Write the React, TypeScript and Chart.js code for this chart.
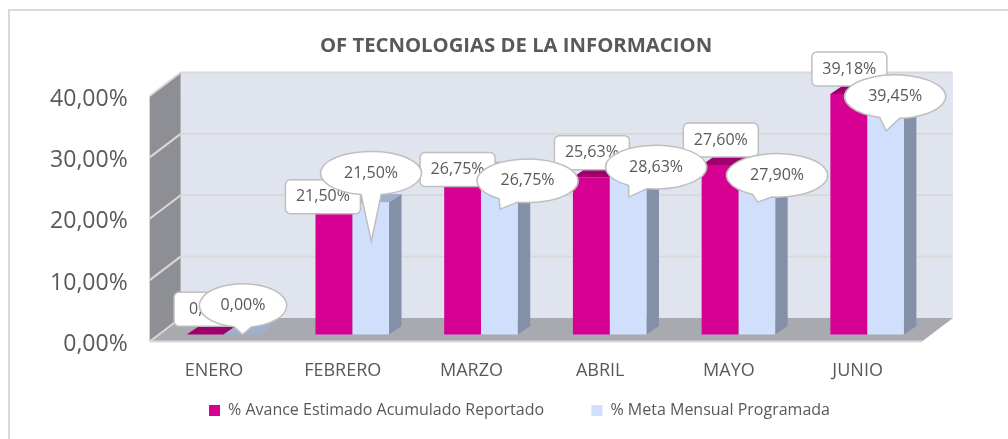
import React, { useEffect, useRef } from "react";
import { Chart, registerables } from "chart.js";

Chart.register(...registerables);

const categories = ["ENERO", "FEBRERO", "MARZO", "ABRIL", "MAYO", "JUNIO"];
const avanceValues = [0, 21.5, 26.75, 25.63, 27.6, 39.18];
const metaValues = [0, 21.5, 26.75, 28.63, 27.9, 39.45];
const avanceName = "% Avance Estimado Acumulado Reportado";
const metaName = "% Meta Mensual Programada";
const titleText = "OF TECNOLOGIAS DE LA INFORMACION";

const FONT = '"Open Sans", sans-serif';
const TEXT = "#595959";

// 3D look: offsets of the wall and bars
const WALL_DX = 31;
const WALL_DY = -23.5;
const BAR_SHIFT_X = 9.5;
const BAR_SHIFT_Y = -7;
const BAR_DX = 12.5;
const BAR_DY = -8.5;

// Callout placement relative to the top of each bar
const boxOffsetX = [6.4, -10.9, -5, 0.6, 0.8, 0.6];
const boxOffsetY = [-25.3, -5.8, -0.8, -24.5, -25.1, -25];
const bubbleOffsetX = [1.1, 0.4, 28.2, 28, 20.3, 9.6];
const bubbleOffsetY = [-29, -29.3, 10.5, 8.4, 12.1, 4.3];
const tailDrop = [0, 38.9, 38.8, 38.4, 38.9, 38.6];

const fmt = (v: number) => v.toFixed(2).replace(".", ",") + "%";

function poly(ctx: CanvasRenderingContext2D, pts: number[][], fill?: string, stroke?: string, lw = 1) {
  ctx.beginPath();
  pts.forEach((p, i) => (i ? ctx.lineTo(p[0], p[1]) : ctx.moveTo(p[0], p[1])));
  ctx.closePath();
  if (fill) {
    ctx.fillStyle = fill;
    ctx.fill();
  }
  if (stroke) {
    ctx.strokeStyle = stroke;
    ctx.lineWidth = lw;
    ctx.stroke();
  }
}

function line(ctx: CanvasRenderingContext2D, x1: number, y1: number, x2: number, y2: number, c: string, lw: number) {
  ctx.beginPath();
  ctx.moveTo(x1, y1);
  ctx.lineTo(x2, y2);
  ctx.strokeStyle = c;
  ctx.lineWidth = lw;
  ctx.stroke();
}

const scene3d = {
  id: "scene3d",
  afterLayout(chart: any) {
    chart.legend.left += 3.5;
    chart.legend.right += 3.5;
  },
  beforeDraw(chart: any) {
    const ctx = chart.ctx;
    ctx.save();
    ctx.fillStyle = "#ffffff";
    ctx.fillRect(0, 0, chart.width, chart.height);
    ctx.strokeStyle = "#d9d9d9";
    ctx.lineWidth = 2;
    ctx.strokeRect(9, 10, 1010, 440);
    ctx.restore();
  },
  beforeDatasetsDraw(chart: any) {
    const ctx = chart.ctx;
    const { left, right } = chart.chartArea;
    const ys = chart.scales.y;
    const y0 = ys.getPixelForValue(0);
    const yMax = ys.getPixelForValue(ys.max);
    ctx.save();
    // back wall, side wall, floor
    poly(ctx, [[left + WALL_DX, yMax + WALL_DY], [right + WALL_DX, yMax + WALL_DY], [right + WALL_DX, y0 + WALL_DY], [left + WALL_DX, y0 + WALL_DY]], "#e0e4ee");
    poly(ctx, [[left, yMax], [left + WALL_DX, yMax + WALL_DY], [left + WALL_DX, y0 + WALL_DY], [left, y0]], "#8e8f94");
    poly(ctx, [[left, y0], [left + WALL_DX, y0 + WALL_DY], [right + WALL_DX, y0 + WALL_DY], [right, y0]], "#a9aab0");
    // gridlines on the walls
    ys.ticks.forEach((t: any) => {
      const y = ys.getPixelForValue(t.value);
      line(ctx, left, y, left + WALL_DX, y + WALL_DY, "#d9d9d9", 2);
      if (t.value > 0) line(ctx, left + WALL_DX, y + WALL_DY, right + WALL_DX, y + WALL_DY, "#d9d9d9", 2);
    });
    line(ctx, left, y0, right, y0, "#d9d9d9", 2);
    // bar depth
    const magenta = chart.getDatasetMeta(0).data;
    const blue = chart.getDatasetMeta(1).data;
    ctx.translate(BAR_SHIFT_X, BAR_SHIFT_Y);
    const faces = (el: any, top: string, side: string) => {
      const p = el.getProps(["x", "y", "base", "width"], true);
      const l = p.x - p.width / 2;
      const r = p.x + p.width / 2;
      poly(ctx, [[l, p.y], [l + BAR_DX, p.y + BAR_DY], [r + BAR_DX, p.y + BAR_DY], [r, p.y]], top);
      poly(ctx, [[r, p.y], [r + BAR_DX, p.y + BAR_DY], [r + BAR_DX, p.base + BAR_DY], [r, p.base]], side);
    };
    magenta.forEach((el: any) => faces(el, "#a0006e", "#a0006e"));
    blue.forEach((el: any) => faces(el, "#9fb0cc", "#8490a8"));
    ctx.restore();
    // bars are drawn by Chart.js in the same shifted position
    ctx.save();
    ctx.translate(BAR_SHIFT_X, BAR_SHIFT_Y);
  },
  afterDatasetsDraw(chart: any) {
    const ctx = chart.ctx;
    ctx.restore();
    ctx.save();
    const magenta = chart.getDatasetMeta(0).data;
    const blue = chart.getDatasetMeta(1).data;
    ctx.textAlign = "center";
    ctx.textBaseline = "middle";
    ctx.font = `16px ${FONT}`;
    const W = 75;
    const H = 34;
    magenta.forEach((el: any, i: number) => {
      const p = el.getProps(["x", "y"], true);
      const cx = p.x + BAR_SHIFT_X + boxOffsetX[i];
      const cy = p.y + BAR_SHIFT_Y + boxOffsetY[i];
      ctx.beginPath();
      ctx.roundRect(cx - W / 2, cy - H / 2, W, H, 5);
      ctx.fillStyle = "#ffffff";
      ctx.fill();
      ctx.strokeStyle = "#bfbfbf";
      ctx.lineWidth = 1.5;
      ctx.stroke();
      ctx.fillStyle = TEXT;
      ctx.fillText(fmt(avanceValues[i]), cx, cy);
    });
    blue.forEach((el: any, i: number) => {
      const p = el.getProps(["x", "y"], true);
      const bx = p.x + BAR_SHIFT_X;
      const by = p.y + BAR_SHIFT_Y;
      const cx = bx + bubbleOffsetX[i];
      const cy = by + bubbleOffsetY[i];
      const tx = bx + 0.7;
      const ty = by + tailDrop[i];
      const rx = 50.5;
      const ry = 21.8;
      const rxi = i === 0 ? 43.7 : rx;
      const a = Math.atan2((ty - cy) / ry, (tx - cx) / rxi);
      const d = 0.2;
      ctx.beginPath();
      ctx.ellipse(cx, cy, rxi, ry, 0, a + d, a - d + Math.PI * 2);
      ctx.lineTo(tx, ty);
      ctx.closePath();
      ctx.fillStyle = "#ffffff";
      ctx.fill();
      ctx.strokeStyle = "#bfbfbf";
      ctx.lineWidth = 1.5;
      ctx.stroke();
      ctx.fillStyle = TEXT;
      ctx.fillText(fmt(metaValues[i]), cx, cy);
    });
    ctx.restore();
  },
};

export default function App() {
  const ref = useRef<HTMLCanvasElement>(null);
  useEffect(() => {
    const chart = new Chart(ref.current!, {
      type: "bar",
      data: {
        labels: categories,
        datasets: [
          { label: avanceName, data: avanceValues, backgroundColor: "#d60093", clip: false as any },
          { label: metaName, data: metaValues, backgroundColor: "#cfdffc", clip: false as any },
        ],
      },
      plugins: [scene3d],
      options: {
        animation: false,
        responsive: false,
        layout: { padding: { left: 24, right: 0, top: 0, bottom: 10.5 } },
        datasets: { bar: { barPercentage: 1, categoryPercentage: 0.5714 } },
        plugins: {
          tooltip: { enabled: false },
          title: {
            display: true,
            text: titleText,
            color: TEXT,
            font: { family: FONT, size: 20.3, weight: "bold" },
            padding: { top: 34, bottom: 37.6 },
          },
          legend: {
            position: "bottom",
            labels: {
              color: TEXT,
              font: { family: FONT, size: 16 },
              boxWidth: 11,
              boxHeight: 11,
              padding: 10,
              generateLabels: (c: any) =>
                Chart.defaults.plugins.legend.labels.generateLabels(c).map((it: any, i: number) =>
                  i === 0 ? { ...it, text: it.text + "\u00a0".repeat(9) } : it
                ),
            },
          },
        },
        scales: {
          x: {
            grid: { display: false },
            border: { display: false },
            ticks: { color: TEXT, font: { family: FONT, size: 18 }, padding: 11 },
            afterFit: (s: any) => {
              s.height = 51;
            },
          },
          y: {
            min: 0,
            max: 40,
            grid: { display: false },
            border: { display: false },
            ticks: {
              stepSize: 10,
              color: TEXT,
              font: { family: FONT, size: 23 },
              padding: 14,
              labelOffset: 3,
              callback: (v: any) => fmt(Number(v)),
            },
            afterFit: (s: any) => {
              s.width = 125.65;
            },
          },
          y2: {
            position: "right",
            display: true,
            grid: { display: false },
            border: { display: false },
            ticks: { display: false },
            afterFit: (s: any) => {
              s.width = 86;
            },
          },
        },
      } as any,
    });
    return () => chart.destroy();
  }, []);
  return (
    <div style={{ position: "absolute", left: 0, top: 0 }}>
      <canvas ref={ref} width={1008} height={439} style={{ display: "block" }} />
    </div>
  );
}
